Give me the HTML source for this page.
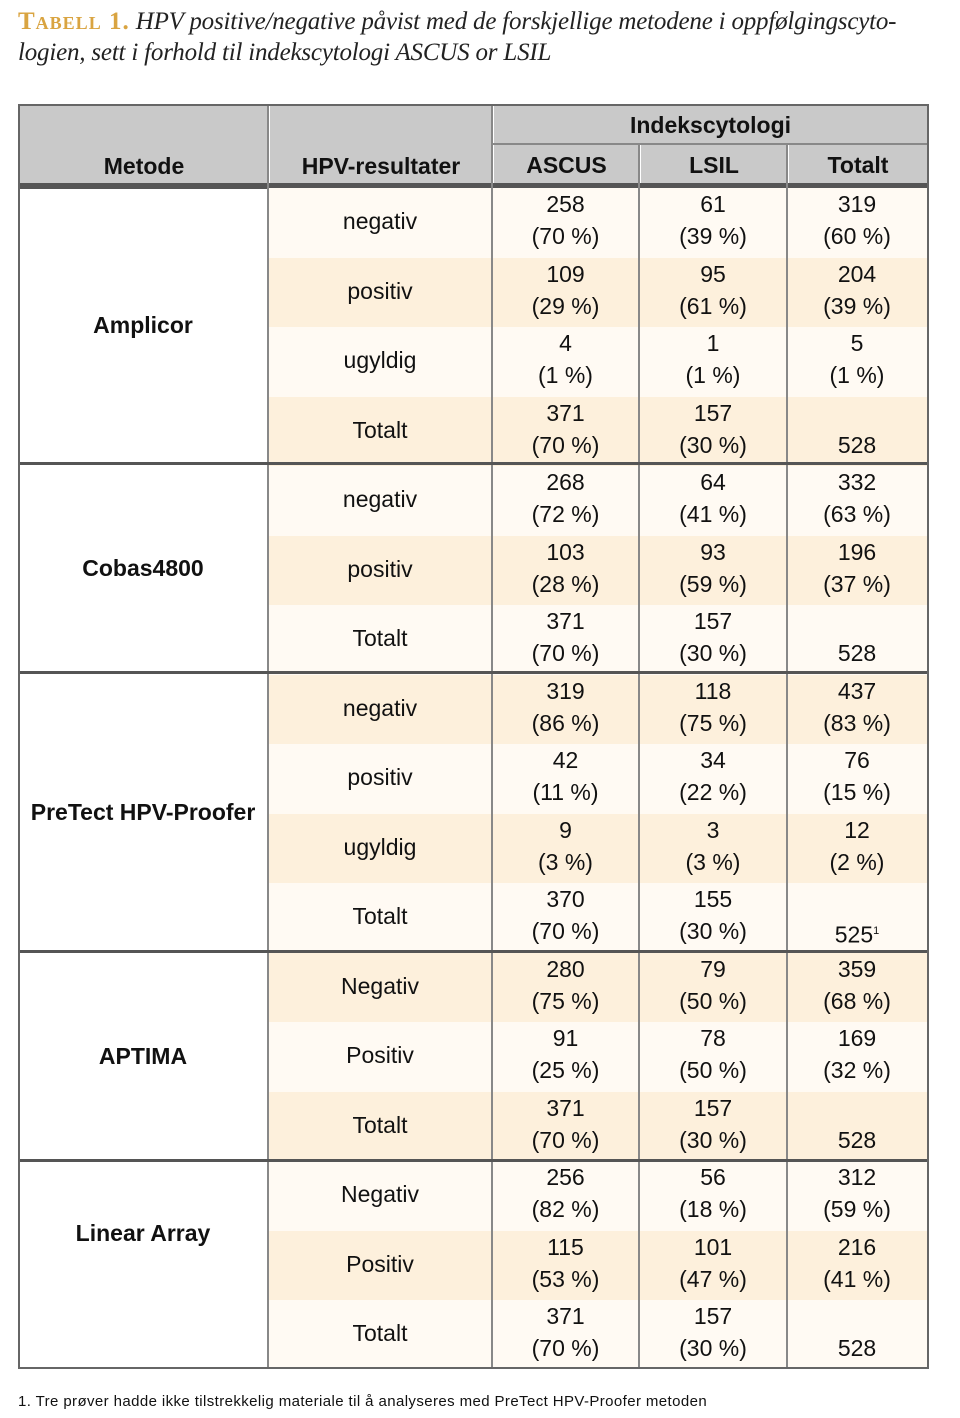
<!DOCTYPE html>
<html><head><meta charset="utf-8"><style>
body{margin:0;width:960px;height:1418px;background:#fff;position:relative;font-family:"Liberation Sans",Arial,sans-serif;color:#111;overflow:hidden}
.title{position:absolute;left:18px;top:6px;width:940px;font-family:"Liberation Serif",serif;font-style:italic;font-size:25px;line-height:31px;color:#222;letter-spacing:-0.2px;white-space:nowrap}
.title b{font-style:normal;color:#d9a441;font-variant:small-caps;letter-spacing:1px}
.tbl{position:absolute;left:18px;top:104px;width:911px;height:1265px;border:2px solid #666;box-sizing:border-box}
.hd{position:absolute;background:#c9c9c9;font-weight:bold;font-size:23px;text-align:center}
.vl{position:absolute;width:2px;background:#888}
.row{position:absolute;left:268px;width:659px;height:69.5px;font-size:23px}
.L{background:#fffaf3}.D{background:#fdf0dc}
.row div{position:absolute;top:0;height:69.5px;text-align:center;line-height:32px;padding-top:0;box-sizing:border-box}
.row .a{left:0;width:224px;line-height:66px;padding:0}
.row .b{left:224px;width:147px}.row .c{left:371px;width:148px}.row .d{left:519px;width:140px}
.m{position:absolute;left:18px;width:250px;text-align:center;font-weight:bold;font-size:23px;background:#fff}
.gl{position:absolute;left:18px;width:911px;height:3px;background:#555}
.fn{position:absolute;left:18px;top:1393px;font-size:15px;letter-spacing:0.4px}
</style></head><body>
<div class="title"><b>Tabell 1.</b> HPV positive/negative påvist med de forskjellige metodene i oppfølgingscyto-<br>logien, sett i forhold til indekscytologi ASCUS or LSIL</div>
<div class="tbl"></div>
<div class="hd" style="left:20px;top:106px;width:248px;height:77px;line-height:120px">Metode</div>
<div class="hd" style="left:270px;top:106px;width:222px;height:77px;line-height:120px">HPV-resultater</div>
<div class="hd" style="left:494px;top:106px;width:433px;height:37px;line-height:38px">Indekscytologi</div>
<div class="hd" style="left:494px;top:145px;width:145px;height:38px;line-height:40px">ASCUS</div>
<div class="hd" style="left:641px;top:145px;width:146px;height:38px;line-height:40px">LSIL</div>
<div class="hd" style="left:789px;top:145px;width:138px;height:38px;line-height:40px">Totalt</div>
<div style="position:absolute;left:492px;top:143px;width:435px;height:2px;background:#888"></div>
<div style="position:absolute;left:20px;top:183px;width:907px;height:6px;background:#555"></div>

<div class="m" style="top:189px;height:274px;line-height:272px">Amplicor</div>
<div class="m" style="top:466px;height:206px;line-height:204px">Cobas4800</div>
<div class="m" style="top:675px;height:276px;line-height:274px">PreTect HPV-Proofer</div>
<div class="m" style="top:954px;height:206px;line-height:204px">APTIMA</div>
<div class="m" style="top:1163px;height:140px;line-height:140px">Linear Array</div>

<div class="row L" style="top:188px"><div class="a">negativ</div><div class="b">258<br>(70 %)</div><div class="c">61<br>(39 %)</div><div class="d">319<br>(60 %)</div></div>
<div class="row D" style="top:257.5px"><div class="a">positiv</div><div class="b">109<br>(29 %)</div><div class="c">95<br>(61 %)</div><div class="d">204<br>(39 %)</div></div>
<div class="row L" style="top:327px"><div class="a">ugyldig</div><div class="b">4<br>(1 %)</div><div class="c">1<br>(1 %)</div><div class="d">5<br>(1 %)</div></div>
<div class="row D" style="top:396.5px"><div class="a">Totalt</div><div class="b">371<br>(70 %)</div><div class="c">157<br>(30 %)</div><div class="d"><br>528</div></div>
<div class="row L" style="top:466px"><div class="a">negativ</div><div class="b">268<br>(72 %)</div><div class="c">64<br>(41 %)</div><div class="d">332<br>(63 %)</div></div>
<div class="row D" style="top:535.5px"><div class="a">positiv</div><div class="b">103<br>(28 %)</div><div class="c">93<br>(59 %)</div><div class="d">196<br>(37 %)</div></div>
<div class="row L" style="top:605px"><div class="a">Totalt</div><div class="b">371<br>(70 %)</div><div class="c">157<br>(30 %)</div><div class="d"><br>528</div></div>
<div class="row D" style="top:674.5px"><div class="a">negativ</div><div class="b">319<br>(86 %)</div><div class="c">118<br>(75 %)</div><div class="d">437<br>(83 %)</div></div>
<div class="row L" style="top:744px"><div class="a">positiv</div><div class="b">42<br>(11 %)</div><div class="c">34<br>(22 %)</div><div class="d">76<br>(15 %)</div></div>
<div class="row D" style="top:813.5px"><div class="a">ugyldig</div><div class="b">9<br>(3 %)</div><div class="c">3<br>(3 %)</div><div class="d">12<br>(2 %)</div></div>
<div class="row L" style="top:883px"><div class="a">Totalt</div><div class="b">370<br>(70 %)</div><div class="c">155<br>(30 %)</div><div class="d"><br>525<sup style="font-size:11px">1</sup></div></div>
<div class="row D" style="top:952.5px"><div class="a">Negativ</div><div class="b">280<br>(75 %)</div><div class="c">79<br>(50 %)</div><div class="d">359<br>(68 %)</div></div>
<div class="row L" style="top:1022px"><div class="a">Positiv</div><div class="b">91<br>(25 %)</div><div class="c">78<br>(50 %)</div><div class="d">169<br>(32 %)</div></div>
<div class="row D" style="top:1091.5px"><div class="a">Totalt</div><div class="b">371<br>(70 %)</div><div class="c">157<br>(30 %)</div><div class="d"><br>528</div></div>
<div class="row L" style="top:1161px"><div class="a">Negativ</div><div class="b">256<br>(82 %)</div><div class="c">56<br>(18 %)</div><div class="d">312<br>(59 %)</div></div>
<div class="row D" style="top:1230.5px"><div class="a">Positiv</div><div class="b">115<br>(53 %)</div><div class="c">101<br>(47 %)</div><div class="d">216<br>(41 %)</div></div>
<div class="row L" style="top:1300px;height:68px"><div class="a">Totalt</div><div class="b">371<br>(70 %)</div><div class="c">157<br>(30 %)</div><div class="d"><br>528</div></div>

<div class="vl" style="left:267px;top:104px;height:1265px"></div>
<div class="vl" style="left:491px;top:104px;height:1265px"></div>
<div class="vl" style="left:638px;top:143px;height:1226px"></div>
<div class="vl" style="left:786px;top:143px;height:1226px"></div>

<div class="gl" style="top:462px"></div>
<div class="gl" style="top:671px"></div>
<div class="gl" style="top:950px"></div>
<div class="gl" style="top:1159px"></div>
<div class="tbl" style="background:none"></div>

<div class="fn">1. Tre prøver hadde ikke tilstrekkelig materiale til å analyseres med PreTect HPV-Proofer metoden</div>
</body></html>
